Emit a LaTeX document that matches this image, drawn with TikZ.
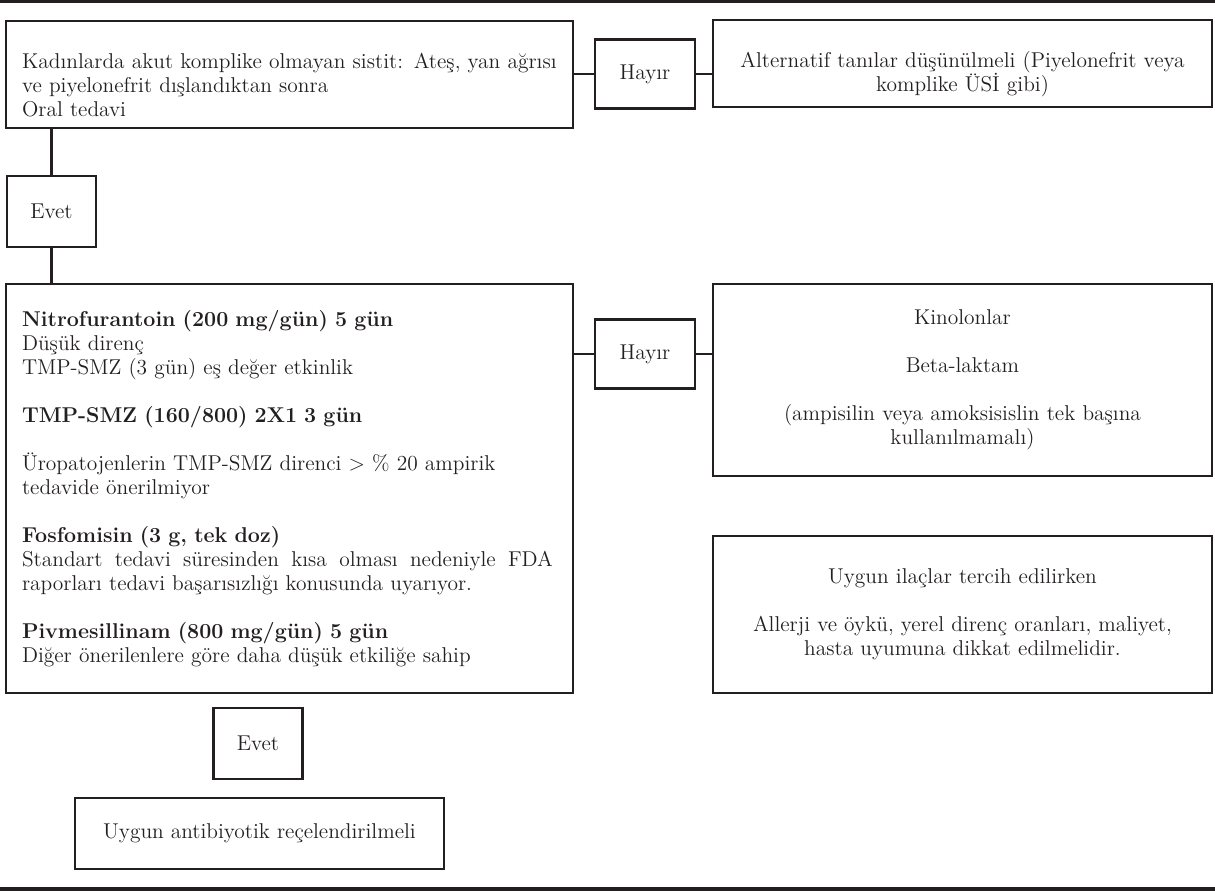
\documentclass[tikz,border=0pt]{standalone}
\usetikzlibrary{positioning}
\definecolor{fcInk}{HTML}{231F20}

\begin{document}
\begin{tikzpicture}[
  x=0.02cm,y=-0.02cm,
  font=\fontsize{12.2}{13.66}\selectfont,
  every node/.style={
    text=fcInk,align=center,outer sep=0pt
  },
  box/.style={
    draw=fcInk,
    line width=1.4pt,
    inner sep=0pt
  },
  answer/.style={
    box,
    minimum width=2cm,
    minimum height=1.38cm
  },
  evetbox/.style={
    box,
    minimum width=1.78cm,
    minimum height=1.42cm
  },
  leftcard/.style={
    box,
    align=left,
    inner xsep=0.32cm,
    text width=10.7cm,
    minimum width=11.34cm
  },
  rightcard/.style={
    box,
    text width=9.4cm,
    minimum width=9.98cm
  },
  link/.style={
    draw=fcInk,
    line width=1.4pt
  },
  rule/.style={
    draw=fcInk,
    line width=1.9pt
  }
]
\path[use as bounding box] (0,0) rectangle (1215,891);

% Page rules
\draw[rule] (0,1.5) -- (1215,1.5);
\draw[rule] (0,889) -- (1215,889);

% First question
\node[leftcard,minimum height=2.14cm] (cystitis) at (289.5,74.5)
  {\rule{0pt}{21pt}Kadınlarda akut komplike olmayan sistit: Ateş, yan ağrısı\\
   ve piyelonefrit dışlandıktan sonra\\
   Oral tedavi};

\node[answer] (hayirTop) at (645,74) {Hayır};

\node[rightcard,minimum height=1.74cm] (alternative) at (962.5,63.5)
  {\rule{0pt}{21pt}Alternatif tanılar düşünülmeli (Piyelonefrit veya\\
   komplike ÜSİ gibi)};

\node[evetbox] (evetTop) at (51.5,211.5) {Evet};

% First line regimens
\node[leftcard,minimum height=8.18cm] (regimens) at (289.5,488.5)
  {{\bfseries Nitrofurantoin (200 mg/gün) 5 gün}\\
   Düşük direnç\\
   TMP-SMZ (3 gün) eş değer etkinlik\\[13.66pt]
   {\bfseries TMP-SMZ (160/800) 2X1 3 gün}\\[13.66pt]
   Üropatojenlerin TMP-SMZ direnci > \% 20 ampirik\\
   tedavide önerilmiyor\\[13.66pt]
   {\bfseries Fosfomisin (3 g, tek doz)}\\
   \makebox[10.62cm][s]{\spaceskip=.3em plus 1fil
     Standart tedavi süresinden kısa olması nedeniyle FDA}\\
   raporları tedavi başarısızlığı konusunda uyarıyor.\\[13.66pt]
   {\bfseries Pivmesillinam (800 mg/gün) 5 gün}\\
   Diğer önerilenlere göre daha düşük etkiliğe sahip};

\node[answer] (hayirMid) at (645,354) {Hayır};

\node[rightcard,minimum height=3.84cm] (secondline) at (962.5,380)
  {Kinolonlar\\[13.66pt]
   Beta-laktam\\[13.66pt]
   (ampisilin veya amoksisislin tek başına\\
   kullanılmamalı)};

\node[rightcard,minimum height=3.14cm] (choice) at (962.5,614.5)
  {Uygun ilaçlar tercih edilirken\\[13.66pt]
   Allerji ve öykü, yerel direnç oranları, maliyet,\\
   hasta uyumuna dikkat edilmelidir.};

% Outcome
\node[evetbox] (evetLow) at (258,743.5) {Evet};

\node[box,minimum width=7.38cm,minimum height=1.42cm] (prescribe)
  at (259.5,833.5) {Uygun antibiyotik reçelendirilmeli};

% Connectors
\draw[link] (cystitis.east |- hayirTop) -- (hayirTop.west);
\draw[link] (hayirTop.east) -- (alternative.west |- hayirTop);
\draw[link] (evetTop.north) -- (evetTop.north |- cystitis.south);
\draw[link] (evetTop.south) -- (evetTop.south |- regimens.north);
\draw[link] (regimens.east |- hayirMid) -- (hayirMid.west);
\draw[link] (hayirMid.east) -- (secondline.west |- hayirMid);

\end{tikzpicture}
\end{document}
